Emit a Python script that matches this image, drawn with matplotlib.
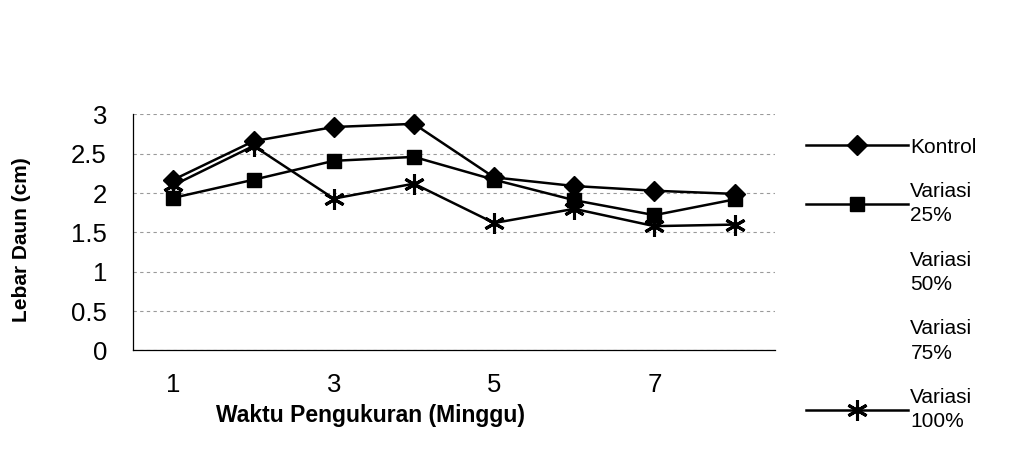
import matplotlib
matplotlib.use("Agg")
import matplotlib.pyplot as plt

plt.rcParams["font.family"] = ["Liberation Sans", "DejaVu Sans"]

weeks = [1, 2, 3, 4, 5, 6, 7, 8]
tick_weeks = [1, 3, 5, 7]
y_ticks = [0, 0.5, 1, 1.5, 2, 2.5, 3]

kontrol = [2.17, 2.66, 2.84, 2.88, 2.20, 2.09, 2.03, 1.99]
variasi_25 = [1.94, 2.17, 2.41, 2.46, 2.17, 1.91, 1.72, 1.92]
variasi_50 = [2.02, 2.62, 2.30, 2.35, 1.98, 1.98, 1.76, 1.86]
variasi_75 = [1.96, 2.40, 2.12, 2.20, 1.82, 1.86, 1.66, 1.76]
variasi_100 = [2.10, 2.60, 1.93, 2.12, 1.62, 1.80, 1.58, 1.60]

labels = ["Kontrol", "Variasi\n25%", "Variasi\n50%", "Variasi\n75%", "Variasi\n100%"]

fig = plt.figure(figsize=(10.10, 4.54), dpi=100)
ax = fig.add_axes([0.132, 0.228, 0.635, 0.52])

# the 50% and 75% series are white in the original, so they do not show
ax.plot(weeks, variasi_50, color="white", lw=1.5, zorder=1, label=labels[2])
ax.plot(weeks, variasi_75, color="white", lw=1.5, zorder=1, label=labels[3])
ax.plot(weeks, kontrol, color="black", lw=1.8, marker="D", ms=10, zorder=3, label=labels[0])
ax.plot(weeks, variasi_25, color="black", lw=1.8, marker="s", ms=9.5, zorder=3, label=labels[1])
ax.plot(weeks, variasi_100, color="black", lw=1.8, marker=(6, 2, 0), ms=15, mew=2.2,
        zorder=3, label=labels[4])

ax.set_xlim(0.5, 8.5)
ax.set_ylim(0, 3)
ax.set_yticks(y_ticks)
ax.set_yticklabels(["0", "0.5", "1", "1.5", "2", "2.5", "3"])
ax.set_xticks(tick_weeks)
ax.tick_params(axis="both", labelsize=18.5, length=0)
ax.tick_params(axis="x", pad=16)
ax.tick_params(axis="y", pad=19)
ax.grid(axis="y", color="#9a9a9a", lw=0.8, ls=(0, (3, 3)))
for s in ["top", "right"]:
    ax.spines[s].set_visible(False)
for s in ["left", "bottom"]:
    ax.spines[s].set_linewidth(0.9)

ax.set_xlabel("Waktu Pengukuran (Minggu)", fontsize=16.5, fontweight="bold")
ax.xaxis.set_label_coords(0.37, -0.225)
ax.set_ylabel("Lebar Daun (cm)", fontsize=15, fontweight="bold")
ax.yaxis.set_label_coords(-0.16, 0.47)

handles, labs = ax.get_legend_handles_labels()
order = [labs.index(l) for l in labels]
leg = fig.legend([handles[i] for i in order], [labs[i] for i in order],
                 loc="upper left", bbox_to_anchor=(0.790, 0.715), frameon=False,
                 fontsize=15, handlelength=4.9, handletextpad=0.1,
                 labelspacing=1.22, borderaxespad=0)
for t in leg.get_texts():
    t.set_linespacing(1.35)

fig.savefig("out.png", dpi=100)
